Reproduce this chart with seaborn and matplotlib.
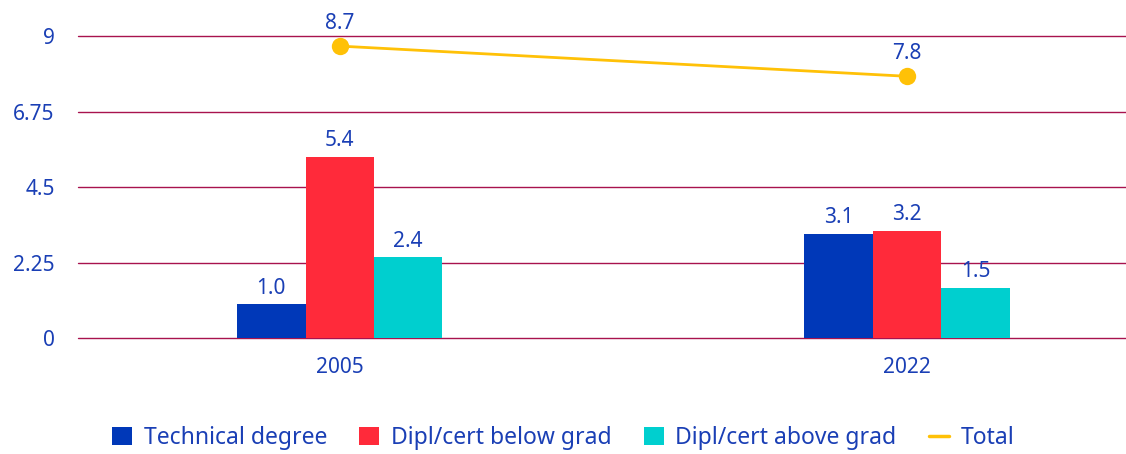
import matplotlib
matplotlib.use("Agg")
import matplotlib.pyplot as plt
import seaborn as sns
import pandas as pd
from matplotlib.patches import Patch
from matplotlib.lines import Line2D

years = ["2005", "2022"]
series = ["Technical degree", "Dipl/cert below grad", "Dipl/cert above grad"]
technical = [1.0, 3.1]
below_grad = [5.4, 3.2]
above_grad = [2.4, 1.5]
total = [8.7, 7.8]
yticks = [0, 2.25, 4.5, 6.75, 9]
ytick_labels = ["0", "2.25", "4.5", "6.75", "9"]

colors = ["#0038b8", "#ff2a3a", "#00cfcf"]
line_color = "#ffc107"
text_color = "#1a3fb5"
grid_color = "#a8134e"

sns.set_theme(style="white")
plt.rcParams["font.family"] = ["Noto Sans", "DejaVu Sans"]

df = pd.DataFrame({
    "year": years * 3,
    "series": [s for s in series for _ in years],
    "value": technical + below_grad + above_grad,
})

fig = plt.figure(figsize=(11.26, 4.54), dpi=100)
ax = fig.add_axes([0.069, 0.2555, 0.931, 0.742])

sns.barplot(data=df, x="year", y="value", hue="series", hue_order=series,
            palette=colors, width=0.362, saturation=1, ax=ax, legend=False,
            linewidth=0, zorder=3)

sns.lineplot(x=[0, 1], y=total, color=line_color, linewidth=2, marker="o",
             markersize=12.5, markeredgewidth=0, ax=ax, zorder=4)

for container in ax.containers:
    ax.bar_label(container, fmt="%.1f", padding=4, color=text_color, fontsize=15)
for xi, v in enumerate(total):
    ax.annotate(f"{v:.1f}", (xi, v), xytext=(0, 9), textcoords="offset points",
                ha="center", va="bottom", color=text_color, fontsize=15)

ax.set_ylim(0, 10.04)
ax.set_xlim(-0.462, 1.386)
ax.set_yticks(yticks)
ax.set_yticklabels(ytick_labels)
for y in yticks:
    ax.axhline(y, color=grid_color, linewidth=1, zorder=1, clip_on=False)
ax.set_xlabel("")
ax.set_ylabel("")
ax.tick_params(axis="both", length=0, labelsize=15, colors=text_color)
ax.tick_params(axis="y", pad=16.5)
ax.tick_params(axis="x", pad=14)
for spine in ax.spines.values():
    spine.set_visible(False)

handles = [Patch(facecolor=c, edgecolor="none") for c in colors]
handles.append(Line2D([0], [0], color=line_color, linewidth=2.5))
fig.legend(handles, series + ["Total"], loc="center", bbox_to_anchor=(0.5, 0.035),
           ncol=4, frameon=False, fontsize=16.5, labelcolor=text_color,
           handlelength=0.87, handleheight=0.87, columnspacing=1.4,
           handletextpad=0.52)

fig.savefig("out.png", dpi=100)
